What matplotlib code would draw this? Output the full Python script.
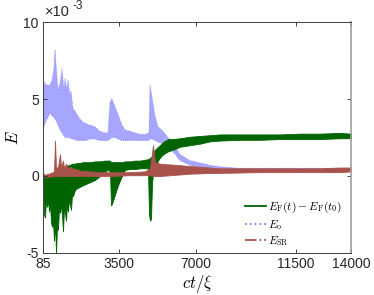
import matplotlib
matplotlib.use("Agg")
import matplotlib.pyplot as plt
from matplotlib.lines import Line2D

plt.rcParams['mathtext.fontset'] = 'cm'
plt.rcParams['font.family'] = ['Liberation Sans', 'DejaVu Sans']

# ---- data (values in units of 1e-3) ----
# E_o band: time, lower envelope, upper envelope
eo_t = [85, 130, 175, 221, 311, 401, 492, 582, 627, 672, 763, 853, 943, 1034, 1079, 1169,
        1215, 1305, 1350, 1440, 1621, 1757, 1892, 2028, 2208, 2434, 2660, 2886, 3022, 3112,
        3202, 3338, 3473, 3654, 3790, 4016, 4242, 4467, 4693, 4874, 4919, 5010, 5145, 5281,
        5507, 5733, 5958, 6275, 6726, 7178, 7630, 8082, 8534, 8985, 14000]
eo_lo = [3.3, 3.2, 3.4, 3.6, 3.8, 4.1, 3.9, 3.8, 3.7, 3.6, 3.3, 3.0, 2.8, 2.6, 2.5, 2.5,
         2.5, 2.5, 2.4, 2.4, 2.3, 2.3, 2.3, 2.3, 2.4, 2.4, 2.3, 2.3, 2.3, 2.4,
         2.5, 2.5, 2.4, 2.3, 2.3, 2.3, 2.3, 2.3, 2.3, 2.3, 2.4, 2.4, 2.3, 2.2,
         2.1, 1.9, 1.6, 1.0, 0.7, 0.55, 0.45, 0.4, 0.4, 0.35, 0.35]
eo_hi = [3.5, 5.8, 6.1, 5.9, 5.9, 5.9, 6.2, 7.0, 8.2, 7.3, 5.6, 6.0, 6.9, 5.6, 6.3, 5.6,
         6.2, 5.2, 5.5, 4.4, 4.0, 3.7, 3.5, 3.4, 3.3, 3.2, 2.9, 2.8, 2.8, 4.8,
         5.0, 4.5, 4.0, 3.3, 3.0, 2.9, 2.8, 2.7, 2.7, 2.8, 5.9, 5.1, 3.9, 3.2,
         2.9, 2.5, 2.1, 1.4, 1.0, 0.85, 0.7, 0.6, 0.55, 0.5, 0.5]

# E_F(t) - E_F(t0) band
ef_t = [85, 130, 175, 221, 266, 311, 356, 401, 446, 492, 537, 582, 627, 672, 718, 763,
        808, 853, 898, 943, 989, 1034, 1124, 1169, 1215, 1260, 1350, 1395, 1440, 1531,
        1621, 1757, 1892, 2208, 2434, 2660, 2886, 3022, 3112, 3157, 3202, 3338, 3473,
        3654, 3790, 4016, 4242, 4467, 4693, 4829, 4874, 4919, 4964, 5010, 5055, 5145,
        5281, 5371, 5507, 5733, 5958, 6275, 6726, 7178, 7630, 8082, 8985, 9889, 10793,
        11696, 12600, 13504, 14000]
ef_lo = [-0.2, -2.5, -2.7, -1.5, -2.0, -1.6, -2.3, -1.8, -3.0, -3.3, -3.0, -4.2, -3.0, -5.0, -3.2, -3.5,
         -2.0, -2.4, -1.8, -2.6, -3.6, -2.0, -2.9, -1.8, -2.3, -1.5, -2.2, -1.2, -1.3, -0.9,
         -0.8, -0.7, -0.6, -0.4, -0.26, 0.0, 0.3, 0.4, 0.3, -1.9, -1.8, -1.2, -0.6,
         0.0, 0.4, 0.45, 0.45, 0.5, 0.5, 0.5, -2.5, -2.9, -2.8, -0.5, 0.2, 0.5,
         1.0, 1.2, 1.4, 1.6, 1.7, 1.9, 2.0, 2.1, 2.25, 2.3, 2.35, 2.35, 2.4,
         2.4, 2.4, 2.45, 2.45]
ef_hi = [0.2, 0.1, 0.0, 0.0, 0.0, 0.0, 0.0, 0.0, 0.0, 0.05, 0.07, 0.1, 0.2, 0.25, 0.3, 0.35,
         0.4, 0.4, 0.45, 0.5, 0.5, 0.55, 0.6, 0.65, 0.7, 0.7, 0.75, 0.8, 0.8, 0.8,
         0.85, 0.85, 0.9, 0.9, 0.95, 0.95, 1.0, 1.0, 1.0, 0.9, 0.9, 0.9, 0.9,
         0.9, 0.95, 0.95, 1.0, 1.0, 1.05, 1.1, 1.1, 1.2, 1.2, 1.3, 1.5, 1.7,
         1.9, 2.0, 2.2, 2.4, 2.4, 2.45, 2.55, 2.6, 2.65, 2.7, 2.7, 2.7, 2.7,
         2.75, 2.75, 2.8, 2.75]

# E_SR band
esr_t = [85, 221, 446, 582, 627, 672, 763, 853, 898, 989, 1034, 1124, 1215, 1305, 1440,
         1757, 2208, 2660, 3112, 4016, 4693, 4919, 5055, 5145, 5371, 5823, 6275, 6726,
         7178, 7630, 8082, 9889, 12600, 13504, 14000]
esr_lo = [-0.05, -0.05, -0.05, 0.0, 0.0, 0.0, 0.0, 0.0, 0.0, 0.0, 0.0, 0.0, 0.0, 0.0, 0.0,
          0.0, 0.0, 0.0, 0.0, 0.05, 0.05, 0.05, 0.0, 0.0, 0.0, 0.05, 0.1, 0.15,
          0.17, 0.2, 0.2, 0.25, 0.25, 0.25, 0.3]
esr_hi = [0.05, 0.1, 0.2, 0.3, 2.3, 0.5, 0.6, 1.4, 0.6, 1.0, 0.5, 0.8, 0.5, 0.6, 0.5,
          0.35, 0.3, 0.25, 0.25, 0.25, 0.3, 0.5, 2.0, 0.9, 0.8, 0.75, 0.7, 0.65,
          0.6, 0.55, 0.5, 0.5, 0.5, 0.55, 0.55]

xticks = [85, 3500, 7000, 11500, 14000]
yticks = [-5, 0, 5, 10]

c_green = '#006400'
c_blue = '#8080ff'
c_red = '#a8524c'

fig = plt.figure(figsize=(3.74, 2.95), dpi=100)
ax = fig.add_axes([0.115, 0.1424, 0.8235, 0.783])

ax.fill_between(eo_t, eo_lo, eo_hi, color='#a6a6ff', lw=0.6, edgecolor=c_blue, linestyle=':')
ax.fill_between(ef_t, ef_lo, ef_hi, color=c_green, lw=0.6, edgecolor=c_green)
ax.fill_between(esr_t, esr_lo, esr_hi, color=c_red, lw=0.6, edgecolor=c_red)

ax.set_xlim(85, 14000)
ax.set_ylim(-5, 10)
ax.set_xticks(xticks)
ax.set_xticklabels([str(v) for v in xticks])
ax.set_yticks(yticks)
ax.set_yticklabels([str(v) for v in yticks])
ax.tick_params(direction='in', top=True, right=True, length=3, width=0.6,
               labelsize=10, pad=3, colors='#262626')
for s in ax.spines.values():
    s.set_color('#404040')
    s.set_linewidth(0.7)
ax.spines['right'].set_color('#a0a0a0')
ax.spines['right'].set_linewidth(1.2)

ax.text(0.006, 1.012, '\u00d710', transform=ax.transAxes, fontsize=10.5,
        ha='left', va='bottom', color='#262626')
ax.text(0.097, 1.045, '-3', transform=ax.transAxes, fontsize=8.5,
        ha='left', va='bottom', color='#262626')

ax.set_xlabel(r'$ct/\xi$', fontsize=12, labelpad=1)
ax.set_ylabel(r'$E$', fontsize=12, labelpad=2)

handles = [Line2D([], [], color=c_green, lw=1.3, ls='-'),
           Line2D([], [], color=c_blue, lw=1.3, ls=':'),
           Line2D([], [], color=c_red, lw=1.3, ls='-.')]
labels = [r'$E_{\rm F}(t)-E_{\rm F}(t_0)$', r'$E_{\rm o}$', r'$E_{\rm SR}$']
ax.legend(handles, labels, loc='lower right', frameon=False, fontsize=8.3,
          handlelength=1.8, handletextpad=0.15, labelspacing=0.25,
          borderaxespad=0.1, borderpad=0.3,
          bbox_to_anchor=(0.985, 0.0))

fig.savefig('out.png', dpi=100)
